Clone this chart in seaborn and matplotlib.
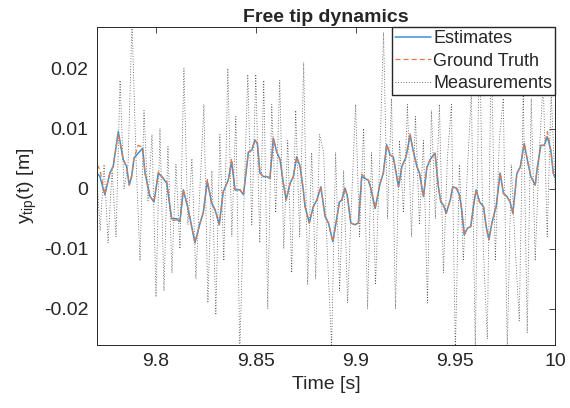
import numpy as np
import pandas as pd
import matplotlib
matplotlib.use("Agg")
import matplotlib.pyplot as plt
import seaborn as sns

# State samples: time [s], ground truth and estimate [mm]
t_state = [9.7704, 9.7719, 9.7744, 9.7769, 9.7786, 9.7811, 9.7836, 9.7853, 9.7866, 9.7878,
           9.7890, 9.7911, 9.7933, 9.7945, 9.7970, 9.7990, 9.8012, 9.8029, 9.8054, 9.8070,
           9.8079, 9.8104, 9.8120, 9.8137, 9.8162, 9.8195, 9.8221, 9.8237, 9.8257, 9.8279,
           9.8296, 9.8317, 9.8337, 9.8362, 9.8379, 9.8396, 9.8421, 9.8438, 9.8463, 9.8480,
           9.8496, 9.8508, 9.8521, 9.8538, 9.8558, 9.8571, 9.8588, 9.8605, 9.8622, 9.8638,
           9.8652, 9.8672, 9.8688, 9.8705, 9.8722, 9.8738, 9.8747, 9.8768, 9.8788, 9.8806,
           9.8826, 9.8847, 9.8864, 9.8886, 9.8902, 9.8919, 9.8931, 9.8947, 9.8959, 9.8976,
           9.8997, 9.9014, 9.9031, 9.9048, 9.9064, 9.9076, 9.9098, 9.9123, 9.9139, 9.9156,
           9.9173, 9.9189, 9.9215, 9.9232, 9.9253, 9.9273, 9.9290, 9.9307, 9.9320, 9.9340,
           9.9357, 9.9373, 9.9390, 9.9398, 9.9415, 9.9427, 9.9440, 9.9454, 9.9474, 9.9487,
           9.9504, 9.9520, 9.9532, 9.9544, 9.9560, 9.9577, 9.9590, 9.9604, 9.9621, 9.9641,
           9.9654, 9.9668, 9.9683, 9.9704, 9.9724, 9.9741, 9.9758, 9.9774, 9.9788, 9.9808,
           9.9825, 9.9845, 9.9861, 9.9878, 9.9900, 9.9911, 9.9928, 9.9945, 9.9961, 9.9978,
           9.9991, 10.0000]
y_truth = [4.0, 3.2, -1.0, 2.6, 3.8, 9.2, 4.8, 3.7, 0.6, 2.2,
           5.1, 7.2, 6.9, 2.6, -1.3, -2.2, 2.8, 2.0, 1.2, -3.0,
           -5.3, -5.2, -5.5, -0.2, -3.5, -9.0, -5.7, -4.0, 1.5, -2.4,
           -3.5, -6.0, -0.5, 1.4, 5.0, -0.2, -0.2, -1.0, 6.1, 6.4,
           8.1, 7.5, 2.6, 2.0, 2.0, 1.7, 8.4, 6.1, 4.8, 0.9,
           -1.9, 0.9, 2.0, 5.3, 3.7, -0.2, -3.0, -5.7, -3.0, -1.9,
           0.3, -4.6, -5.7, -8.8, -5.7, -2.2, -1.9, 0.1, -1.3, -5.7,
           -6.0, -5.7, 2.4, 1.9, 1.4, 0.1, -3.3, 0.9, 2.6, 7.3,
           5.6, 5.3, 0.3, 3.7, 5.3, 9.1, 6.1, 3.7, 2.6, -1.3,
           3.5, 4.8, 5.6, 5.9, 0.3, -2.2, -2.7, -4.1, -1.9, 0.3,
           0.3, -1.0, -3.5, -7.7, -6.6, -6.3, -3.0, -0.2, -2.2, -3.0,
           -6.3, -8.5, -5.7, -3.0, 2.6, -0.8, -1.3, -2.2, -4.1, 2.5,
           3.6, 7.5, 4.7, 2.0, 0.6, 3.6, 7.2, 7.2, 9.5, 6.4,
           2.5, 1.8]
y_est = [2.6, 2.0, -1.0, 2.6, 3.7, 9.5, 4.8, 3.7, 0.6, 2.0,
         5.1, 5.9, 6.7, 2.6, -1.3, -2.2, 2.6, 2.0, 0.9, -3.0,
         -5.0, -5.0, -5.5, -0.2, -3.5, -9.0, -5.7, -4.0, 1.2, -2.4,
         -3.5, -6.0, -0.5, 1.4, 4.5, -0.2, -0.2, -1.0, 6.1, 6.4,
         8.1, 7.5, 2.6, 2.0, 2.0, 1.7, 8.4, 6.1, 4.8, 0.9,
         -1.9, 0.9, 2.0, 5.3, 3.7, -0.2, -3.0, -5.7, -3.0, -1.9,
         0.3, -4.6, -5.7, -8.8, -5.7, -2.2, -1.9, 0.1, -1.3, -5.7,
         -6.0, -5.7, 2.0, 1.7, 1.4, 0.1, -3.3, 0.9, 2.6, 7.3,
         5.6, 5.3, 0.3, 3.7, 5.3, 8.9, 6.1, 3.7, 2.6, -1.3,
         3.5, 4.8, 5.6, 5.9, 0.3, -2.2, -2.7, -4.1, -1.9, 0.3,
         0.1, -1.0, -3.5, -7.7, -6.6, -6.3, -3.0, -0.2, -2.2, -3.0,
         -6.3, -8.5, -5.7, -3.0, 2.6, -0.8, -1.3, -2.2, -4.1, 2.5,
         3.6, 7.5, 4.7, 2.0, 0.6, 3.6, 7.2, 7.2, 8.6, 6.4,
         2.5, 1.8]

# Noisy tip measurements [mm], sampled every 2 ms from 9.770 s
y_meas = [4, -7, 4, -9, 3, -8, 18, 0, 4, 28,
          5, -12, 13, -2, 9, -18, 10, -17, 7, -14,
          4, -10, 20, -6, 5, -15, 0, 14, -19, 3,
          -21, 9, -12, 20, -8, 12, -27, -3, 19, -6,
          19, -9, 18, -20, 14, -4, 18, -10, 8, -14,
          13, -8, 21, -16, 6, -15, 9, 6, -12, -26,
          6, -17, 3, -19, -2, 14, -8, 10, -20, 6,
          -16, 4, 26, -5, 15, -20, 8, -4, 14, -8,
          12, -6, 8, -19, 13, -5, 14, -14, 5, 14,
          -27, 4, -12, 3, 16, -27, 27, -10, -25, 24,
          -12, 8, 15, -27, 4, -10, -22, 16, -24, 15,
          -12, 6, 18, -8, 16, 0]
t_meas = np.round(9.770 + 0.002 * np.arange(len(y_meas)), 3)

state = pd.DataFrame({"t": t_state,
                      "truth": np.array(y_truth) * 1e-3,
                      "est": np.array(y_est) * 1e-3})
meas = pd.DataFrame({"t": t_meas, "y": np.array(y_meas) * 1e-3})

sns.set_theme(style="white")
plt.rcParams["font.family"] = ["Liberation Sans", "DejaVu Sans"]
plt.rcParams["axes.unicode_minus"] = False
plt.rcParams["mathtext.fontset"] = "custom"
plt.rcParams["mathtext.rm"] = "Liberation Sans"

fig, ax = plt.subplots(figsize=(5.7, 4.08), dpi=100)
fig.subplots_adjust(left=0.170, right=0.974, top=0.9326, bottom=0.1544)

sns.lineplot(data=meas, x="t", y="y", ax=ax, color="#4a4a4a", lw=0.6,
             linestyle=(0, (1, 2.2)), sort=False, estimator=None, label="Measurements")
sns.lineplot(data=state, x="t", y="est", ax=ax, color="#3A93D6", lw=1.1,
             sort=False, estimator=None, label="Estimates")
sns.lineplot(data=state, x="t", y="truth", ax=ax, color="#E2774A", lw=0.9,
             linestyle=(0, (4, 2.5)), sort=False, estimator=None, label="Ground Truth")

lines = ax.get_lines()
ax.legend(handles=[lines[1], lines[2], lines[0]],
          labels=["Estimates", "Ground Truth", "Measurements"],
          loc="upper right", borderaxespad=0, frameon=True, fancybox=False,
          edgecolor="#262626", framealpha=1, fontsize=13, handlelength=2.0,
          handletextpad=0.15, labelspacing=0.3, borderpad=0.15)

ax.set_xlim(9.7704, 10)
ax.set_ylim(-0.0260, 0.0268)
ax.set_xticks([9.8, 9.85, 9.9, 9.95, 10])
ax.set_xticklabels(["9.8", "9.85", "9.9", "9.95", "10"])
ax.set_yticks([-0.02, -0.01, 0, 0.01, 0.02])
ax.set_yticklabels(["-0.02", "-0.01", "0", "0.01", "0.02"])
ax.tick_params(direction="in", length=4, width=0.6, top=True, right=True,
               labelsize=14, colors="#262626", pad=6)
for s in ax.spines.values():
    s.set_visible(True)
    s.set_color("#262626")
    s.set_linewidth(0.7)

ax.set_title("Free tip dynamics", fontsize=14, fontweight="bold", pad=4)
ax.set_xlabel("Time [s]", fontsize=14, color="#262626")
ax.set_ylabel(r"y$_{\mathregular{tip}}$(t) [m]", fontsize=14, color="#262626")

plt.savefig("out.png", dpi=100)
plt.close()
